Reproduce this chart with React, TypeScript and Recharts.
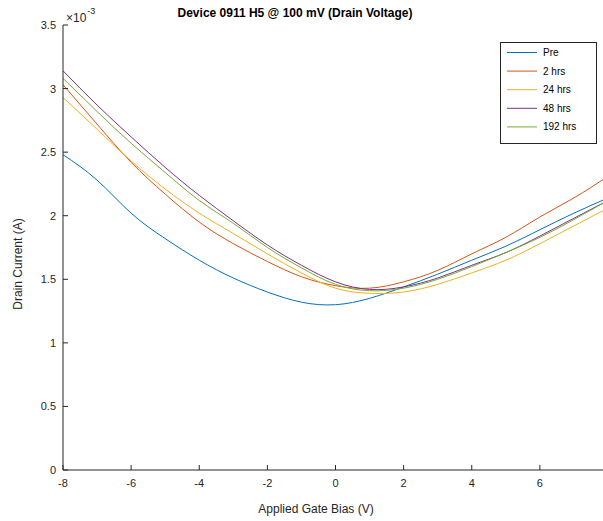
import React from 'react';
import { LineChart, Line, XAxis, YAxis } from 'recharts';

// gate bias (V)
const gateBias = [-8, -7, -6, -5, -4, -3, -2, -1, 0, 1, 2, 3, 4, 5, 6, 7, 8];

// drain current, in units of 1e-3 A
const pre = [2.48, 2.28, 2.02, 1.82, 1.65, 1.51, 1.40, 1.32, 1.30, 1.35, 1.44, 1.54, 1.65, 1.76, 1.89, 2.02, 2.14];
const hrs2 = [3.03, 2.72, 2.42, 2.17, 1.95, 1.78, 1.64, 1.52, 1.45, 1.43, 1.48, 1.57, 1.70, 1.83, 1.99, 2.14, 2.31];
const hrs24 = [2.93, 2.68, 2.43, 2.21, 2.02, 1.86, 1.70, 1.55, 1.43, 1.39, 1.40, 1.46, 1.55, 1.65, 1.78, 1.92, 2.06];
const hrs48 = [3.14, 2.87, 2.62, 2.38, 2.16, 1.96, 1.77, 1.61, 1.48, 1.42, 1.44, 1.51, 1.61, 1.71, 1.84, 1.98, 2.12];
const hrs192 = [3.08, 2.82, 2.57, 2.34, 2.12, 1.94, 1.75, 1.59, 1.46, 1.41, 1.43, 1.50, 1.60, 1.71, 1.83, 1.97, 2.12];

const xTicks = [-8, -6, -4, -2, 0, 2, 4, 6, 8];
const yTicks = [0, 0.5, 1, 1.5, 2, 2.5, 3, 3.5];

const series = [
  { key: 'pre', name: 'Pre', color: '#0072BD', values: pre },
  { key: 'h2', name: '2 hrs', color: '#D95319', values: hrs2 },
  { key: 'h24', name: '24 hrs', color: '#EDB120', values: hrs24 },
  { key: 'h48', name: '48 hrs', color: '#7E2F8E', values: hrs48 },
  { key: 'h192', name: '192 hrs', color: '#77AC30', values: hrs192 },
];

const data = gateBias.map((v, i) => {
  const row: Record<string, number> = { v };
  series.forEach(s => { row[s.key] = s.values[i]; });
  return row;
});

const FONT = 'Liberation Sans, Arial, Helvetica, sans-serif';
const AXIS = '#262626';

const BottomTick = (props: any) => {
  const { x, y, payload } = props;
  return (
    <g>
      <line x1={x} y1={y} x2={x} y2={y - 5} stroke={AXIS} />
      {/* the 8 label falls outside the figure in the original */}
      {payload.value !== 8 && (
        <text x={x} y={y + 17} textAnchor="middle" fontSize={11} fill={AXIS} fontFamily={FONT}>
          {payload.value}
        </text>
      )}
    </g>
  );
};

const TopTick = (props: any) => {
  const { x, y } = props;
  return <line x1={x} y1={y} x2={x} y2={y + 5} stroke={AXIS} />;
};

const LeftTick = (props: any) => {
  const { x, y, payload } = props;
  return (
    <g>
      <line x1={x} y1={y} x2={x + 5} y2={y} stroke={AXIS} />
      <text x={x - 7} y={y + 4} textAnchor="end" fontSize={11} fill={AXIS} fontFamily={FONT}>
        {payload.value}
      </text>
    </g>
  );
};

// legend box, top right inside the axes
const LegendBox = () => (
  <g>
    <rect x={500.5} y={42.5} width={96} height={101} fill="#fff" stroke={AXIS} />
    {series.map((s, i) => {
      const y = 52.5 + i * 18.6;
      return (
        <g key={s.key}>
          <line x1={507} y1={y} x2={537} y2={y} stroke={s.color} strokeWidth={1} />
          <text x={543} y={y + 3.5} fontSize={10} fill="#000" fontFamily={FONT}>
            {s.name}
          </text>
        </g>
      );
    })}
  </g>
);

export default function App() {
  return (
    <div
      style={{
        position: 'absolute',
        left: 0,
        top: 0,
        width: 603,
        height: 521,
        overflow: 'hidden',
        background: '#fff',
      }}
    >
      <LineChart width={640} height={521} data={data} margin={{ top: 25, right: 32, left: 0, bottom: 0 }}>
        <XAxis
          dataKey="v"
          type="number"
          domain={[-8, 8]}
          ticks={xTicks}
          tickSize={0}
          tickMargin={0}
          tick={BottomTick}
          tickLine={false}
          axisLine={{ stroke: AXIS }}
          height={51}
          allowDataOverflow
        />
        <XAxis
          xAxisId="top"
          orientation="top"
          dataKey="v"
          type="number"
          domain={[-8, 8]}
          ticks={xTicks}
          tickSize={0}
          tickMargin={0}
          tick={TopTick}
          tickLine={false}
          axisLine={{ stroke: AXIS }}
          height={0}
        />
        <YAxis
          type="number"
          domain={[0, 3.5]}
          ticks={yTicks}
          tickSize={0}
          tickMargin={0}
          tick={LeftTick}
          tickLine={false}
          axisLine={{ stroke: AXIS }}
          width={63}
          allowDataOverflow
        />
        {series.map(s => (
          <Line
            key={s.key}
            dataKey={s.key}
            name={s.name}
            stroke={s.color}
            strokeWidth={1}
            type="natural"
            dot={false}
            activeDot={false}
            isAnimationActive={false}
          />
        ))}
        <LegendBox />
        <text x={295} y={17} textAnchor="middle" fontSize={12} fontWeight="bold" fill="#000" fontFamily={FONT}>
          Device 0911 H5 @ 100 mV (Drain Voltage)
        </text>
        <text x={66} y={22} fontSize={12} fill={AXIS} fontFamily={FONT}>
          {'\u00d710'}
          <tspan dy={-8} dx={1} fontSize={9}>-3</tspan>
        </text>
        <text x={316} y={513} textAnchor="middle" fontSize={12} fill={AXIS} fontFamily={FONT}>
          Applied Gate Bias (V)
        </text>
        <text
          x={22}
          y={264}
          textAnchor="middle"
          fontSize={12}
          fill={AXIS}
          fontFamily={FONT}
          transform="rotate(-90 22 264)"
        >
          Drain Current (A)
        </text>
      </LineChart>
    </div>
  );
}
